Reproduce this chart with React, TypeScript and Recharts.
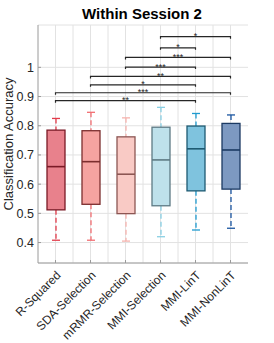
import React from "react";
import { ComposedChart, Bar, XAxis, YAxis, CartesianGrid, ReferenceLine } from "recharts";

const categories = ["R-Squared", "SDA-Selection", "mRMR-Selection", "MMI-Selection", "MMI-LinT", "MMI-NonLinT"];
const whiskerLow = [0.408, 0.408, 0.405, 0.42, 0.443, 0.449];
const q1 = [0.512, 0.531, 0.499, 0.526, 0.577, 0.583];
const median = [0.66, 0.677, 0.634, 0.683, 0.721, 0.717];
const q3 = [0.785, 0.783, 0.762, 0.795, 0.799, 0.808];
const whiskerHigh = [0.825, 0.846, 0.827, 0.863, 0.842, 0.837];

const boxFill = ["#e8818c", "#f5a3a0", "#f9cac5", "#bee1eb", "#7fc3de", "#7d99c1"];
const boxEdge = ["#7a1a26", "#7b2e2e", "#8c5653", "#5e7a84", "#1e5a72", "#1c3a63"];
const whiskerColor = ["#e23b4a", "#f26e72", "#f6b3ae", "#88cfe4", "#1f9bd0", "#1a55a0"];

const yTicks = [0.4, 0.5, 0.6, 0.7, 0.8, 0.9, 1];

// significance brackets (indices into categories)
const bracketFrom = [3, 3, 2, 2, 1, 1, 0, 0];
const bracketTo = [5, 4, 5, 4, 5, 4, 5, 4];
const bracketLevel = [1.105, 1.067, 1.034, 1.001, 0.969, 0.94, 0.913, 0.886];
const bracketStars = ["*", "*", "***", "***", "**", "*", "***", "**"];

const data = categories.map((name, i) => ({
  name,
  idx: i,
  range: [whiskerLow[i], whiskerHigh[i]],
  lo: whiskerLow[i],
  q1: q1[i],
  med: median[i],
  q3: q3[i],
  hi: whiskerHigh[i],
}));

const FONT = "'Liberation Sans', Arial, Helvetica, sans-serif";
const AXIS = "#9a9a9a";
const TXT = "#262626";

function BoxShape(props: any) {
  const { x, y, width, height, payload } = props;
  const top = Math.min(y, y + height);
  const bot = Math.max(y, y + height);
  const { lo, hi, idx } = payload;
  const py = (v: number) => top + ((hi - v) / (hi - lo)) * (bot - top);
  const cx = x + width / 2;
  const wc = whiskerColor[idx];
  return (
    <g>
      <line x1={cx} x2={cx} y1={py(hi)} y2={py(payload.q3)} stroke={wc} strokeWidth={1.3} strokeDasharray="5 3" />
      <line x1={cx} x2={cx} y1={py(payload.q1)} y2={py(lo)} stroke={wc} strokeWidth={1.3} strokeDasharray="5 3" />
      <line x1={cx - 4} x2={cx + 4} y1={py(hi)} y2={py(hi)} stroke={wc} strokeWidth={1.3} />
      <line x1={cx - 4} x2={cx + 4} y1={py(lo)} y2={py(lo)} stroke={wc} strokeWidth={1.3} />
      <rect
        x={x}
        y={py(payload.q3)}
        width={width}
        height={py(payload.q1) - py(payload.q3)}
        fill={boxFill[idx]}
        stroke={boxEdge[idx]}
        strokeWidth={1.3}
      />
      <line x1={x} x2={x + width} y1={py(payload.med)} y2={py(payload.med)} stroke={boxEdge[idx]} strokeWidth={1.6} />
    </g>
  );
}

const makeBracket = (stars: string) => (p: any) => {
  const { x1, y1, x2 } = p;
  return (
    <g>
      <path d={`M${x1},${y1 + 2}V${y1}H${x2}V${y1 + 2}`} stroke={TXT} strokeWidth={1.2} fill="none" />
      <text x={(x1 + x2) / 2} y={y1 + 2.5} textAnchor="middle" fontSize={9} fill={TXT} fontFamily={FONT}>
        {stars}
      </text>
    </g>
  );
};

const XTick = (props: any) => {
  const { x, y, payload } = props;
  return (
    <text
      transform={`translate(${x + 6},${y + 13}) rotate(-45)`}
      textAnchor="end"
      fontSize={12}
      fill={TXT}
      fontFamily={FONT}
    >
      {payload.value}
    </text>
  );
};

const NoTick = () => <g />;

export default function App() {
  return (
    <div style={{ position: "relative", width: 274, height: 343, fontFamily: FONT, background: "#fff" }}>
      <style>{`body{margin:0}`}</style>
      <ComposedChart width={274} height={343} data={data} margin={{ top: 25, right: 26, bottom: 0, left: 0 }}>
        <CartesianGrid
          stroke="#e2e2e2"
          strokeWidth={1}
          horizontal
          vertical
          yAxisId={0}
          verticalCoordinatesGenerator={({ offset }: any) =>
            Array.from({ length: 11 }, (_, i) => offset.left + (offset.width * (i + 1)) / 12)
          }
        />
        <XAxis
          dataKey="name"
          interval={0}
          height={80}
          stroke={AXIS}
          tickSize={-3}
          tickMargin={3}
          tick={<XTick />}
        />
        <XAxis
          xAxisId="t"
          orientation="top"
          dataKey="name"
          interval={0}
          height={0}
          stroke={AXIS}
          tickSize={-3}
          tick={<NoTick />}
        />
        <YAxis
          domain={[0.33, 1.145]}
          ticks={yTicks}
          width={38}
          stroke={AXIS}
          tickSize={-3}
          tickMargin={7}
          tick={{ fill: TXT, fontSize: 12.5 }}
          tickFormatter={(v) => String(v)}
          allowDataOverflow
        />
        <YAxis
          yAxisId="r"
          orientation="right"
          domain={[0.33, 1.145]}
          ticks={yTicks}
          width={0}
          stroke={AXIS}
          tickSize={-3}
          tick={<NoTick />}
          allowDataOverflow
        />
        <Bar dataKey="range" barSize={18} shape={BoxShape} isAnimationActive={false} />
        {bracketLevel.map((lvl, i) => (
          <ReferenceLine
            key={i}
            segment={[
              { x: categories[bracketFrom[i]], y: lvl },
              { x: categories[bracketTo[i]], y: lvl },
            ]}
            ifOverflow="visible"
            shape={makeBracket(bracketStars[i])}
          />
        ))}
      </ComposedChart>
      <svg width={274} height={343} style={{ position: "absolute", left: 0, top: 0, pointerEvents: "none" }}>
        <text x={142} y={18.5} textAnchor="middle" fontSize={15} fontWeight="bold" fill="#000" fontFamily={FONT}>
          Within Session 2
        </text>
        <text
          transform="translate(13,144) rotate(-90)"
          textAnchor="middle"
          fontSize={13}
          fill={TXT}
          fontFamily={FONT}
        >
          Classification Accuracy
        </text>
      </svg>
    </div>
  );
}
